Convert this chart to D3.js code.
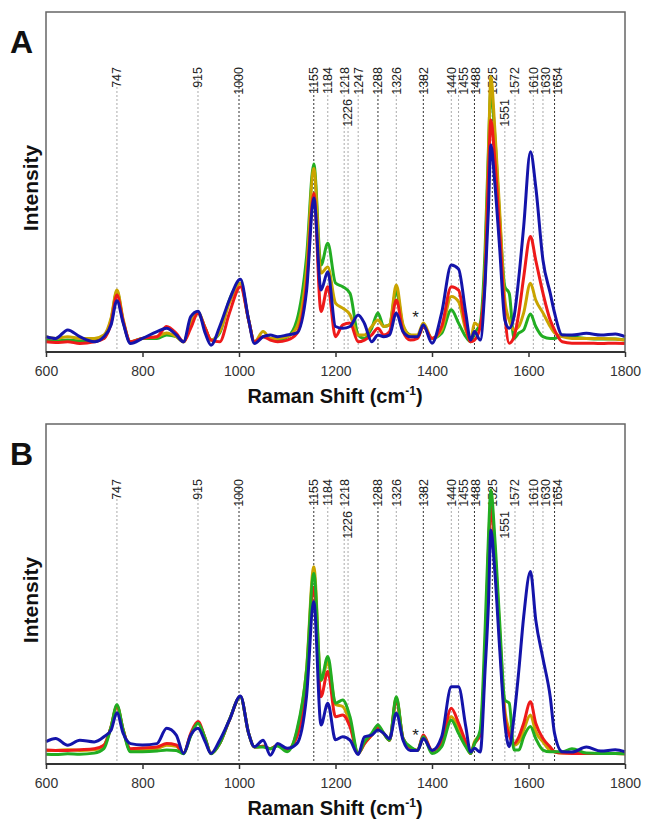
<!DOCTYPE html>
<html>
<head>
<meta charset="utf-8">
<style>
body { margin: 0; background: #ffffff; }
svg { display: block; }
text { font-family: "Liberation Sans", Arial, sans-serif; }
.frame { fill: none; stroke: #666; stroke-width: 1.5px; }
.axisline { stroke: #333; stroke-width: 2px; }
.peak { stroke-width: 1px; stroke-dasharray: 2,2; fill: none; }
.peak.light { stroke: #aaa; }
.peak.dark { stroke: #333; }
.spec { fill: none; stroke-width: 3px; stroke-linejoin: round; }
</style>
</head>
<body>
<svg id="chart" width="645" height="822"></svg>
<script src="https://cdn.jsdelivr.net/npm/d3@7"></script>
<script>
// wavenumber grid (cm-1), shared by all series
var shift = [600,620,645,670,700,720,735,747,760,775,800,830,850,870,885,900,915,930,942,960,
  980,1003,1020,1032,1050,1065,1080,1100,1120,1140,1155,1170,1184,1200,1215,1230,1247,1260,1275,1288,
  1300,1312,1326,1340,1355,1370,1382,1400,1420,1440,1455,1470,1480,1488,1500,1510,1517,1522,1530,1540,
  1551,1560,1570,1580,1590,1604,1615,1630,1645,1654,1670,1690,1720,1750,1780,1800];

// panel A
var goldA = [4.5,4,4.5,4,4,5,10,18.2,9.5,3,4,4.5,5.6,4.5,3,8.5,11.9,7,3.5,6,
  14.4,20.2,9.4,3,6,4,4,4.5,7.4,24,54,23.2,25,14.4,12.9,11,5,5,7.5,9.4,
  7.5,8,19.7,8,5,5,8.5,4,6.5,16.3,14.8,6.5,3.5,8.5,7.5,25,58,81,66,42,
  15.3,9.4,6.5,7.5,11.5,20.2,15.3,11.5,7.5,5.6,4.5,4,4,4,3.8,3.5];
var redA = [3,2.8,3,2.5,3,4,8.5,16.8,9,3,4,4.5,7.5,5.5,3,7,11.5,7,3.5,3,
  11.4,19.2,9.4,3,4.5,3.5,3,3.5,5.5,20,46.7,11.9,19.2,4.5,8,8.5,3,3.5,5,7,
  5,6,15.3,6,3.5,4,7.5,4,7.5,19.2,18.2,7.5,3,3.5,7.5,22,52,68.2,57,36,
  11,2.6,4.5,11.5,22,34,27,17.3,9.4,6.5,3,2.6,2.6,2.5,2.6,2.5];
var greenA = [3.5,3.2,3.5,3.2,3.5,4,9.5,17.7,9,3,4,4,5,4.5,3,8.4,11.5,7,3.5,5.6,
  15.3,20.2,9.4,3,4.5,4,3.5,4.4,9.4,28,55.3,25.6,32,20.3,19.2,17.3,5,4,7,11.5,
  7.5,8,18,7.5,5,4.5,7.5,4,5.5,12.4,8.5,4.5,3,5.5,8.5,30,60,77,64,40,
  19.2,17.3,4,5.6,6.5,11.2,7.5,4.5,4,4,5,4.5,4,3.8,3.8,3.5];
var blueA = [4.5,4,6.5,4.5,3,4.5,8,15.1,8.5,2.5,4,6,7,5,3,10.4,12,5.5,2,7.5,
  15.3,21.4,9.4,2.5,4.5,5,4.5,5,5.6,18,45.3,18.2,23.6,7.5,7,7.5,10.9,8.4,3,5,
  4.5,5,11.5,6,4.5,4.5,8,2.6,11.5,25.6,24.4,11.4,3.5,6,3.5,20,42,60.9,50,31,
  9.4,7,10.4,22,36.9,58.9,48.6,27,17.3,11.5,5,5,5.5,5,5.3,4.5];

// panel B
var goldB = [4,4,4.2,4,4.2,5.5,11,17,10,4,4.2,4.5,5.5,5.2,3.2,8.5,12,7.5,3.1,6,
  12.9,19.8,9,5,5.2,4.5,5.5,4,9.5,28,58,24.5,30,17.5,16.9,12,3.1,6,8.5,11,
  9,7,19.5,7.5,4.8,4,8,4,6,13.9,10.5,5.8,3.1,6.5,9,33,63,78,64,40,
  16,10,5.5,6.5,10,14.4,9.5,6.5,4,3.6,3.2,3.2,3.1,3.1,3.1,3];
var redB = [4.1,4,4,4.2,4.5,5.5,11,17,10,4.5,4.7,5,6,5.6,3.2,9,12.5,7.5,3.1,6,
  12.9,19.8,9,5,5.2,4.5,5.5,4.2,8,25,52,19.8,27.2,13.9,14.4,11,3.1,6,8.5,10.5,
  9,7,19,7.5,4.8,4,8.5,4,6.5,16.4,12,6.5,3.1,6,8.5,32,62,76,62,38,
  13.9,8.5,6,8,12,18.3,12,7.5,5,3.6,3.2,3.1,3.1,3.1,3.1,3];
var greenB = [2.9,2.8,3,2.9,3.2,4.5,11,17.4,10,3.6,3.6,3.8,4.1,4,3,8.3,12,7.5,3,6,
  13,19.8,9,5,5,4.5,5.3,3.6,10,27.6,56,24.7,31.6,17.9,18.8,13.9,3.1,6.6,9,11.5,
  9,7,19.8,7.5,5.1,4,8,3.1,5.1,12.9,9,5.1,3.1,6,10,39.4,66.9,80.6,66.9,42.4,
  18.8,17.9,4.1,4.1,8,11,7.5,4.1,3.6,3.6,3.6,4.5,3.2,3.1,3.1,3];
var blueB = [6.6,7.5,5.5,7,6.5,8,10,15.1,9,6,5.6,6,10.5,8.5,3.1,8.5,10.5,6.5,3.1,7,
  12.9,20,9,5.1,7,2.6,6,4.6,6,20,47.7,11.5,17.9,7.1,8,7,2.8,8,8.5,10,
  9,7.5,14.9,7,4,4,7.5,4,8,22.7,22.7,11,3.5,4.6,3.5,27.6,47.2,68.8,57,34.5,
  12,5.1,13.9,27.6,43.3,56.6,42.4,31,19.8,9,3.6,3.5,5,3.8,4.2,3.6];

var peaksA = [747,915,1000,1155,1184,1218,1226,1247,1288,1326,1382,1440,1455,1488,1525,1551,1572,1610,1630,1654];
var peaksB = [747,915,1000,1155,1184,1218,1226,1288,1326,1382,1440,1455,1488,1525,1551,1572,1610,1630,1654];
var lowPeaks = [1226,1551];
var darkPeaks = [1000,1155,1288,1382,1488,1525,1654];
var xTicks = [600,800,1000,1200,1400,1600,1800];
var starShift = 1366, starA = 8.5, starB = 6.8;

var colors = { gold: "#c9a400", red: "#ee1a1a", green: "#22ad22", blue: "#1414aa" };

var svg = d3.select("#chart");
var x = d3.scaleLinear().domain([600, 1800]).range([46, 625]);

function panel(top, letter, peaks, series, star) {
  var h = 340;
  var y = d3.scaleLinear().domain([0, 100]).range([top + h, top]);
  var g = svg.append("g");

  // peak marker lines and labels; crowded labels are pushed right so they don't overlap
  var lastX = { hi: -100, lo: -100 };
  peaks.forEach(function(p) {
    var low = lowPeaks.indexOf(p) >= 0;
    var row = low ? "lo" : "hi";
    var lx = Math.max(x(p), lastX[row] + 12);
    lastX[row] = lx;
    var labelEnd = top + (low ? 87 : 55);
    g.append("line")
      .attr("class", "peak " + (darkPeaks.indexOf(p) >= 0 ? "dark" : "light"))
      .attr("x1", x(p)).attr("x2", x(p))
      .attr("y1", labelEnd + 8).attr("y2", top + h);
    g.append("text")
      .attr("transform", "translate(" + lx + "," + labelEnd + ") rotate(-90)")
      .attr("dy", "0.35em")
      .attr("text-anchor", "end")
      .attr("font-size", "12.5px")
      .attr("fill", "#222")
      .text(p);
  });

  var line = d3.line()
    .x(function(d, i) { return x(shift[i]); })
    .y(function(d) { return y(d); })
    .curve(d3.curveMonotoneX);

  series.forEach(function(s) {
    g.append("path")
      .attr("class", "spec")
      .attr("stroke", colors[s.c])
      .attr("d", line(s.v));
  });

  g.append("text")
    .attr("x", x(starShift)).attr("y", y(star))
    .attr("text-anchor", "middle")
    .attr("font-size", "17px")
    .attr("fill", "#222")
    .text("*");

  // frame
  g.append("rect").attr("class", "frame")
    .attr("x", 46).attr("y", top).attr("width", 579).attr("height", h);
  g.append("line").attr("class", "axisline")
    .attr("x1", 46).attr("x2", 625).attr("y1", top + h).attr("y2", top + h);

  var ax = g.append("g")
    .attr("transform", "translate(0," + (top + h) + ")")
    .call(d3.axisBottom(x).tickValues(xTicks).tickSize(5).tickPadding(9).tickFormat(d3.format("d")));
  ax.select(".domain").remove();
  ax.selectAll("line").attr("stroke", "#333").attr("stroke-width", 1.5);
  ax.selectAll("text").attr("font-size", "14px").attr("fill", "#333")
    .attr("font-family", "Liberation Sans, Arial, sans-serif");

  var title = g.append("text")
    .attr("x", 335).attr("y", top + h + 51)
    .attr("text-anchor", "middle")
    .attr("font-size", "20px").attr("font-weight", "bold").attr("fill", "#111");
  title.append("tspan").text("Raman Shift (cm");
  title.append("tspan").attr("font-size", "12px").attr("dy", "-8").text("-1");
  title.append("tspan").attr("dy", "8").text(")");

  g.append("text")
    .attr("transform", "translate(38," + (top + 176) + ") rotate(-90)")
    .attr("text-anchor", "middle")
    .attr("font-size", "21px").attr("font-weight", "bold").attr("fill", "#111")
    .text("Intensity");

  g.append("text")
    .attr("x", 10).attr("y", top + 41)
    .attr("font-size", "32px").attr("font-weight", "bold").attr("fill", "#111")
    .text(letter);
}

panel(12, "A", peaksA, [
  { c: "green", v: greenA }, { c: "gold", v: goldA }, { c: "red", v: redA }, { c: "blue", v: blueA }
], starA);

panel(424, "B", peaksB, [
  { c: "gold", v: goldB }, { c: "red", v: redB }, { c: "green", v: greenB }, { c: "blue", v: blueB }
], starB);
</script>
</body>
</html>
